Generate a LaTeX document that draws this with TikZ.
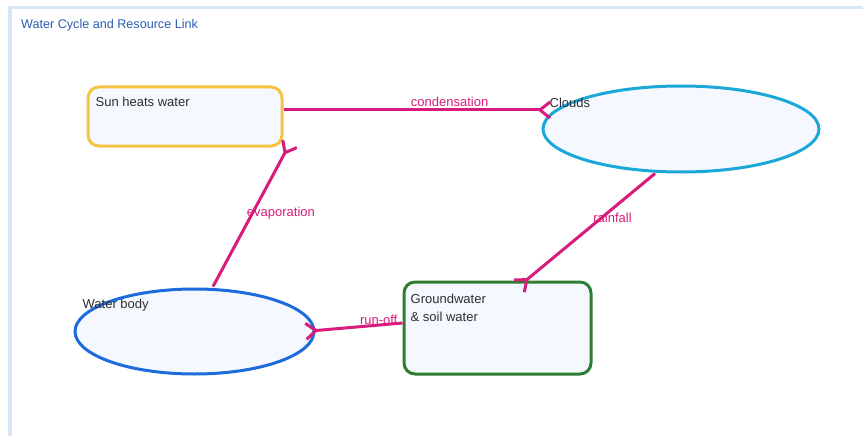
\documentclass[tikz,border=0pt]{standalone}
\usepackage{fontspec}
\setmainfont{Liberation Sans}
\usetikzlibrary{shapes.geometric,arrows.meta,calc}
\definecolor{framec}{HTML}{D6E6F4}
\definecolor{titlec}{HTML}{2A5DB0}
\definecolor{sunc}{HTML}{F6C344}
\definecolor{cloudc}{HTML}{1BA8D8}
\definecolor{waterc}{HTML}{1E6BDB}
\definecolor{gwc}{HTML}{2E7D32}
\definecolor{edgec}{HTML}{D81B7C}
\definecolor{fillc}{HTML}{F5F9FF}
\definecolor{txtc}{HTML}{2E2E2E}
\tikzset{
  boxnode/.style={draw, line width=3pt, fill=fillc, rounded corners=11pt, inner sep=0pt},
  ellnode/.style={draw, ellipse, line width=3pt, fill=fillc, inner sep=0pt},
  ntext/.style={font=\fontsize{13pt}{18pt}\selectfont, text=txtc, inner sep=0pt},
  link/.style={draw=edgec, line width=3pt, -{Straight Barb[reversed, length=10pt, width=16pt]}},
  elbl/.style={font=\fontsize{13pt}{16pt}\selectfont, text=edgec, inner sep=0pt, anchor=base}
}
\begin{document}
\begin{tikzpicture}[x=1pt,y=1pt]
\useasboundingbox (0,0) rectangle (863,-436);
\draw[framec, line width=3.5pt] (870,-7.5) -- (10,-7.5) -- (10,-445);
\node[anchor=base west, inner sep=0pt, text=titlec, font=\fontsize{12.6pt}{15pt}\selectfont] (title) at (21,-28.3) {Water Cycle and Resource Link};

\node[boxnode, draw=sunc, minimum width=194pt, minimum height=59pt] (sun) at (185,-116.5) {};
\node[ellnode, draw=cloudc, minimum width=276pt, minimum height=86pt] (clouds) at (681,-129) {};
\node[ellnode, draw=waterc, minimum width=239pt, minimum height=85pt] (water) at (194.5,-331.5) {};
\node[boxnode, draw=gwc, minimum width=187pt, minimum height=92pt] (gw) at (497.5,-328) {};

\node[ntext, anchor=base west] (sunT) at ([shift={(9pt,-21pt)}]sun.north west) {Sun heats water};
\node[ntext, anchor=base west] (cloudsT) at ([shift={(8pt,-22.5pt)}]clouds.west |- clouds.north) {Clouds};
\node[ntext, anchor=base west] (waterT) at ([shift={(9pt,-21pt)}]water.west |- water.north) {Water body};
\node[ntext, anchor=north west, align=left] (gwT) at ([shift={(8pt,-13pt)}]gw.north west) {Groundwater\\\& soil water};

\draw[link] ([yshift=6.5pt]sun.east) -- node[elbl, pos=0.62, yshift=3.3pt] (lc) {condensation} ([shift={(10pt,19pt)}]clouds.west);
\draw[link] ([shift={(18.5pt,1pt)}]water.north) -- node[elbl, pos=0.483, xshift=30.5pt] (le) {evaporation} ([shift={(7pt,5pt)}]sun.south east);
\draw[link] ([xshift=-26pt]clouds.south) -- node[elbl, pos=0.432, xshift=16.7pt] (lr) {rainfall} ([shift={(20.5pt,-6.5pt)}]gw.north);
\draw[link] ([yshift=5pt]gw.west) -- node[elbl, pos=0.243, yshift=1pt] (lo) {run-off} ([xshift=-11pt]water.east);
\end{tikzpicture}
\end{document}
